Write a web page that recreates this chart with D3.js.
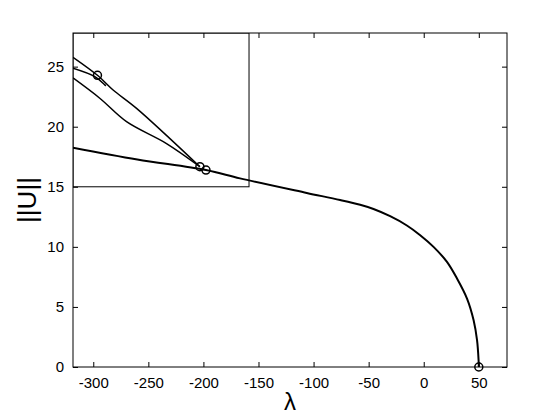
<!DOCTYPE html>
<html>
<head>
<meta charset="utf-8">
<script src="https://cdn.jsdelivr.net/npm/d3@7"></script>
<style>
  body { margin: 0; background: #fff; }
  text { font-family: "Liberation Sans", Arial, sans-serif; fill: #000; }
</style>
</head>
<body>
<svg width="560" height="420"></svg>
<script>
// tick labels
const xTicks = [-300, -250, -200, -150, -100, -50, 0, 50];
const yTicks = [0, 5, 10, 15, 20, 25];

// main branch (lambda, ||U||)
const mainLam  = [-318.4, -260, -197.7, -166.8, -106.2, -75.9, -57.7, -45.6, -30.5, -15.3, -3.2, 8.9, 21.1, 30.2, 39.3, 45.3, 48.4, 49.8, 50];
const mainNorm = [18.25, 17.27, 16.39, 15.7, 14.49, 13.9, 13.5, 13.15, 12.55, 11.78, 10.97, 10.0, 8.75, 7.37, 5.7, 3.89, 2.23, 0.56, 0];

// upper branches inside the box
const branchALam  = [-318.4, -296.2, -282.0, -260.7, -203.2];
const branchANorm = [25.78, 24.28, 23.06, 21.53, 16.67];
const branchBLam  = [-318.4, -298.6, -289.5, -288.6];
const branchBNorm = [24.87, 24.17, 23.48, 23.4];
const branchCLam  = [-318.4, -294.1, -269.8, -233.5, -203.2];
const branchCNorm = [24.06, 22.37, 20.42, 18.6, 16.67];

// circle markers
const markLam  = [-296.2, -203.2, -197.7, 50];
const markNorm = [24.28, 16.67, 16.39, 0];

// box corners
const boxLam  = [-318.4, -158.6];
const boxNorm = [15, 27.8];

function main() {
    var svg = d3.select("svg"),
        left = 73, top = 33, right = 507, bottom = 367;

    svg.append("rect").attr("width", 560).attr("height", 420).attr("fill", "#fff");

    var x = d3.scaleLinear().domain([-318.4, 75.6]).range([left, right]);
    var y = d3.scaleLinear().domain([0, 27.8]).range([bottom, top]);

    svg.append("clipPath").attr("id", "plot")
        .append("rect").attr("x", left).attr("y", top)
        .attr("width", right - left).attr("height", bottom - top);

    var g = svg.append("g").attr("clip-path", "url(#plot)");

    var line = d3.line().x(d => x(d[0])).y(d => y(d[1])).curve(d3.curveCatmullRom.alpha(0.5));

    function branch(lam, nrm, w) {
        g.append("path")
            .datum(lam.map((v, i) => [v, nrm[i]]))
            .attr("d", line)
            .attr("fill", "none")
            .attr("stroke", "#000")
            .attr("stroke-width", w)
            .attr("stroke-linejoin", "round");
    }
    branch(mainLam, mainNorm, 2);
    branch(branchALam, branchANorm, 1.5);
    branch(branchBLam, branchBNorm, 1.5);
    branch(branchCLam, branchCNorm, 1.5);

    // zoom box
    g.append("rect")
        .attr("x", x(boxLam[0])).attr("y", y(boxNorm[1]))
        .attr("width", x(boxLam[1]) - x(boxLam[0]))
        .attr("height", y(boxNorm[0]) - y(boxNorm[1]))
        .attr("fill", "none").attr("stroke", "#000").attr("stroke-width", 1);

    svg.selectAll("circle.mk")
        .data(markLam.map((v, i) => [v, markNorm[i]]))
        .enter().append("circle")
        .attr("class", "mk")
        .attr("cx", d => x(d[0])).attr("cy", d => y(d[1]))
        .attr("r", 4)
        .attr("fill", "none").attr("stroke", "#000").attr("stroke-width", 1.5);

    // axes, ticks inward, box on
    var xAxis = d3.axisBottom(x).tickValues(xTicks).tickSizeInner(-5).tickSizeOuter(0).tickPadding(10);
    var yAxis = d3.axisLeft(y).tickValues(yTicks).tickSizeInner(-5).tickSizeOuter(0).tickPadding(9);

    var gx = svg.append("g").attr("transform", "translate(0," + bottom + ")").call(xAxis);
    var gy = svg.append("g").attr("transform", "translate(" + left + ",0)").call(yAxis);
    svg.append("g").attr("transform", "translate(0," + top + ")")
        .call(d3.axisTop(x).tickValues(xTicks).tickSizeInner(-5).tickSizeOuter(0).tickFormat(""));
    svg.append("g").attr("transform", "translate(" + right + ",0)")
        .call(d3.axisRight(y).tickValues(yTicks).tickSizeInner(-5).tickSizeOuter(0).tickFormat(""));

    svg.selectAll(".domain").remove();
    svg.selectAll(".tick line").attr("stroke", "#000");
    svg.selectAll(".tick text").attr("font-size", 15).attr("font-family", "Liberation Sans, Arial, sans-serif");
    gx.selectAll(".tick text").text(d => d < 0 ? "-" + Math.abs(d) : d);

    svg.append("rect")
        .attr("x", left).attr("y", top)
        .attr("width", right - left).attr("height", bottom - top)
        .attr("fill", "none").attr("stroke", "#000").attr("stroke-width", 1);

    svg.append("text")
        .attr("x", (left + right) / 2).attr("y", 410)
        .attr("text-anchor", "middle")
        .attr("font-size", 24)
        .attr("font-family", "DejaVu Serif, serif")
        .text("λ");

    svg.append("text")
        .attr("transform", "translate(36," + ((top + bottom) / 2) + ") rotate(-90)")
        .attr("text-anchor", "middle")
        .attr("font-size", 26)
        .text("||U||");
}

main();
</script>
</body>
</html>
